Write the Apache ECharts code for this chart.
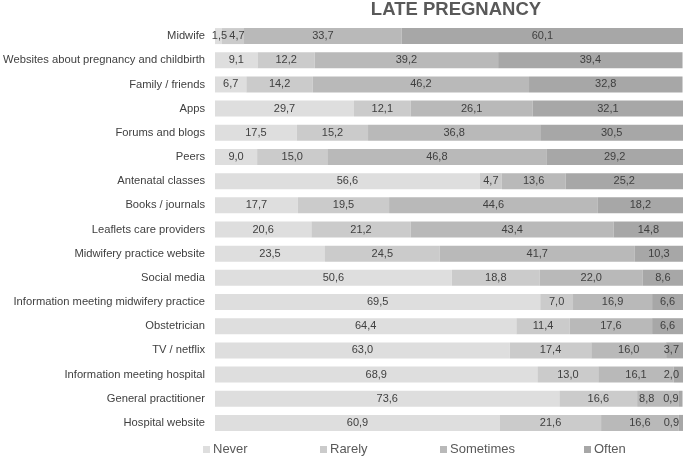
<!DOCTYPE html>
<html><head><meta charset="utf-8">
<script src="https://cdn.jsdelivr.net/npm/echarts@6/dist/echarts.min.js"></script>
<style>html,body{margin:0;padding:0;background:#fff}#c{width:685px;height:456px}</style>
</head><body><div id="c"></div>
<script>
const categories = ["Midwife","Websites about pregnancy and childbirth","Family / friends","Apps","Forums and blogs","Peers","Antenatal classes","Books / journals","Leaflets care providers","Midwifery practice website","Social media","Information meeting midwifery practice","Obstetrician","TV / netflix","Information meeting hospital","General practitioner","Hospital website"];
const never =     [1.5, 9.1, 6.7, 29.7, 17.5, 9.0, 56.6, 17.7, 20.6, 23.5, 50.6, 69.5, 64.4, 63.0, 68.9, 73.6, 60.9];
const rarely =    [4.7, 12.2, 14.2, 12.1, 15.2, 15.0, 4.7, 19.5, 21.2, 24.5, 18.8, 7.0, 11.4, 17.4, 13.0, 16.6, 21.6];
const sometimes = [33.7, 39.2, 46.2, 26.1, 36.8, 46.8, 13.6, 44.6, 43.4, 41.7, 22.0, 16.9, 17.6, 16.0, 16.1, 8.8, 16.6];
const often =     [60.1, 39.4, 32.8, 32.1, 30.5, 29.2, 25.2, 18.2, 14.8, 10.3, 8.6, 6.6, 6.6, 3.7, 2.0, 0.9, 0.9];
const seriesNames = ["Never","Rarely","Sometimes","Often"];
const colors = ["#dedede","#cbcbcb","#b9b9b9","#a7a7a7"];
const values = [never, rarely, sometimes, often];
// label nudges (series index:row index) -> horizontal pixel offset, mimicking the reference's de-overlapped labels
const labelNudges = { "0:0": 1, "1:0": 4, "2:15": -11 };
const legendLeft = [203, 320, 440, 584];

const font = 'Liberation Sans, Arial';
const chart = echarts.init(document.getElementById('c'));
chart.setOption({
  animation: false,
  title: { text: 'LATE PREGNANCY', left: 456, textAlign: 'center', top: 0, padding: 0,
    textStyle: { fontFamily: font, fontSize: 18.5, fontWeight: 'bold', color: '#595959' } },
  grid: { left: 215, right: 2, top: 24, bottom: 21, outerBoundsMode: 'none', containLabel: false },
  legend: seriesNames.map((n, i) => ({ left: legendLeft[i], top: 443, padding: 0, itemWidth: 7, itemHeight: 7, icon: 'rect',
    textStyle: { fontFamily: font, fontSize: 13, color: '#595959', padding: [0,0,0,-2] },
    data: [n] })),
  xAxis: { type: 'value', min: 0, max: 100, show: false },
  yAxis: { type: 'category', data: categories, inverse: true,
    axisLine: { show: false }, axisTick: { show: false },
    axisLabel: { margin: 10, fontFamily: font, fontSize: 11.2, color: '#404040' } },
  series: seriesNames.map((n, i) => ({
    name: n, type: 'bar', stack: 'all', barWidth: 16,
    itemStyle: { color: colors[i] },
    label: { show: true, position: 'inside', fontFamily: font, fontSize: 11, color: '#404040',
      formatter: p => p.value.toFixed(1).replace('.', ',') },
    data: values[i].map((v, j) => {
      const nudge = labelNudges[i + ':' + j];
      if (i === 3 && v < 4) return { value: v, label: { position: 'insideRight', offset: [1, 0] } };
      if (nudge !== undefined) return { value: v, label: { offset: [nudge, 0] } };
      return v;
    })
  }))
});
</script></body></html>
